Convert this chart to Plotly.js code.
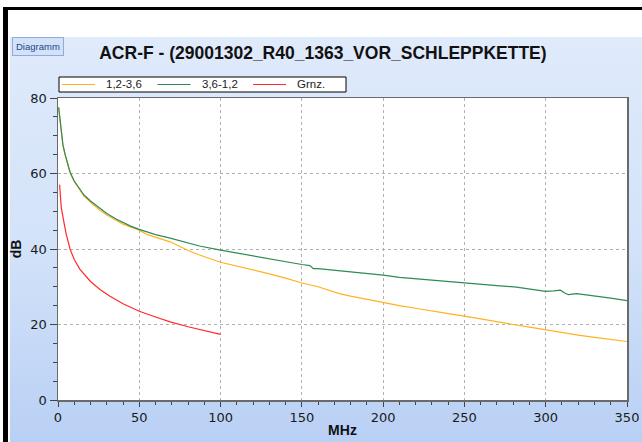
<!DOCTYPE html>
<html>
<head>
<meta charset="utf-8">
<script src="https://cdn.plot.ly/plotly-3.0.1.min.js"></script>
<style>
  body { margin: 0; }
  #frame { position: absolute; left: 0; top: 0; width: 642px; height: 442px; background: #fff; overflow: hidden; }
  #barL { position: absolute; left: 3px; top: 7px; width: 5px; height: 440px; background: #000; }
  #barT { position: absolute; left: 3px; top: 7px; width: 639px; height: 3px; background: #000; }
  #panel { position: absolute; left: 10px; top: 37px; width: 632px; height: 405px;
           background: linear-gradient(to bottom, #dfeafb 0%, #d3e3f9 50%, #b9d0f5 100%); }
  #plot { position: absolute; left: 0; top: 0; width: 642px; height: 442px; }
</style>
</head>
<body>
<div id="frame"><div id="barL"></div><div id="barT"></div><div id="panel"></div></div>
<div id="plot"></div>
<script>
// 1,2-3,6 (orange)
var freqA = [0.4, 1, 2, 3, 4.3, 5.5, 7.4, 10, 13.5, 16, 20, 26, 30, 36, 40, 45, 50, 55, 60, 69, 80, 87, 100,
             110, 120, 130, 140, 150, 160, 173, 180, 190, 200, 210, 220, 230, 240, 250, 260, 270, 280, 290,
             300, 310, 320, 330, 340, 350];
var valsA = [77.5, 75, 70.5, 67.5, 65, 63, 60.2, 57.8, 55.6, 54, 52.4, 50.2, 49, 47.5, 46.6, 45.8, 45.0, 43.8,
             43.1, 41.9, 39.6, 38.4, 36.5, 35.4, 34.4, 33.4, 32.3, 31.0, 30.0, 28.2, 27.5, 26.6, 25.7, 25.0,
             24.3, 23.5, 22.9, 22.2, 21.4, 20.8, 20.0, 19.3, 18.6, 17.8, 17.2, 16.6, 16.1, 15.5];

// 3,6-1,2 (green)
var freqB = [0.4, 1, 2, 3, 4.3, 5.5, 7.4, 10, 13.5, 16, 20, 26, 30, 36, 40, 45, 50, 55, 60, 69, 80, 87, 100,
             110, 120, 130, 140, 150, 155, 157, 160, 173, 180, 190, 200, 210, 220, 230, 240, 250, 260, 270,
             282, 290, 300, 305, 309, 312, 314, 319, 325, 333, 340, 350];
var valsB = [77.5, 75.2, 70.7, 67.7, 65.2, 63.2, 60.4, 58.0, 55.8, 54.3, 52.7, 50.6, 49.4, 47.9, 47.0, 46.0,
             45.2, 44.4, 43.8, 42.9, 41.6, 40.8, 39.7, 38.9, 38.1, 37.3, 36.6, 35.9, 35.6, 34.8, 34.8, 34.3,
             34.0, 33.5, 33.1, 32.5, 32.1, 31.7, 31.3, 31.0, 30.7, 30.3, 29.9, 29.4, 28.8, 28.9, 29.1, 28.3,
             27.9, 28.2, 27.9, 27.4, 27.0, 26.3];

// Grnz. (red limit line)
var freqL = [1, 2, 3.3, 5, 7.4, 10, 13.5, 20, 26, 32, 40, 50, 60, 69, 80, 90, 100];
var valsL = [57, 51, 47.9, 44, 40, 37.2, 34.6, 31.4, 29.2, 27.5, 25.5, 23.5, 22.0, 20.7, 19.4, 18.3, 17.4];

var names = ["1,2-3,6", "3,6-1,2", "Grnz."];
var colors = ["#ffb21f", "#2e8b57", "#ff2a2a"];

var font = "'Liberation Sans', Arial, sans-serif";
var tickFont = "'DejaVu Sans', Verdana, sans-serif";

// plot area in pixels (for the hand-built legend box above the plot)
var plotL = 58, plotW = 569, plotT = 98, plotH = 302;
function px(p) { return (p - plotL) / plotW; }
function py(p) { return 1 + (plotT - p) / plotH; }

var traces = [
  {x: freqA, y: valsA, name: names[0]},
  {x: freqB, y: valsB, name: names[1]},
  {x: freqL, y: valsL, name: names[2]}
].map(function (t, i) {
  t.type = "scatter";
  t.mode = "lines";
  t.line = {color: colors[i], width: 1.2};
  return t;
});

// legend: white box with black border, line + label per series
var shapes = [{
  type: "rect", xref: "paper", yref: "paper",
  x0: px(59), x1: px(346), y0: py(92), y1: py(77),
  fillcolor: "#ffffff", line: {color: "#000000", width: 1}
}];
var annotations = [];
names.forEach(function (n, i) {
  var off = i * 95.5;
  shapes.push({
    type: "line", xref: "paper", yref: "paper",
    x0: px(62 + off), x1: px(95 + off), y0: py(84.5), y1: py(84.5),
    line: {color: colors[i], width: 1.2}
  });
  annotations.push({
    text: n, xref: "paper", yref: "paper",
    x: px(104 + off), y: py(84.5), xanchor: "left", yanchor: "middle",
    showarrow: false, font: {family: font, size: 11.5, color: "#222"}
  });
});

annotations.push({
  text: "Diagramm",
  xref: "paper", yref: "paper",
  x: px(38), y: py(47), xanchor: "center", yanchor: "middle",
  showarrow: false,
  font: {family: font, size: 9.5, color: "#24468c"},
  bgcolor: "#d3e2f8", bordercolor: "#8fabd8", borderwidth: 1, borderpad: 3
});

var layout = {
  width: 642,
  height: 442,
  margin: {l: 58, r: 15, t: 98, b: 42},
  paper_bgcolor: "rgba(0,0,0,0)",
  plot_bgcolor: "#ffffff",
  font: {family: tickFont, size: 13, color: "#1a1a1a"},
  title: {
    text: "ACR-F - (29001302_R40_1363_VOR_SCHLEPPKETTE)",
    font: {family: font, size: 17.5, weight: "bold", color: "#111"},
    x: 0.503, xref: "container", xanchor: "center",
    y: 0.88, yref: "container", yanchor: "middle"
  },
  showlegend: false,
  xaxis: {
    range: [0, 350],
    dtick: 50,
    ticks: "outside", ticklen: 5, tickcolor: "#444",
    tickfont: {family: tickFont, size: 13, color: "#1a1a1a"},
    minor: {dtick: 10, ticks: "outside", ticklen: 3, tickcolor: "#444", showgrid: false},
    showline: true, linecolor: "#6a6a6a", linewidth: 1.5, mirror: true,
    showgrid: true, gridcolor: "#b0b0b0", griddash: "dot", gridwidth: 1,
    zeroline: false,
    title: {text: "MHz", font: {family: font, size: 14, weight: "bold", color: "#111"}, standoff: 1}
  },
  xaxis2: {
    range: [0, 350], overlaying: "x", side: "top",
    dtick: 10, ticks: "inside", ticklen: 4, tickcolor: "#444",
    showticklabels: false, showgrid: false, zeroline: false, showline: false
  },
  yaxis: {
    range: [0, 80],
    dtick: 20,
    ticks: "outside", ticklen: 7, tickcolor: "#444",
    tickfont: {family: tickFont, size: 13, color: "#1a1a1a"},
    minor: {dtick: 5, ticks: "outside", ticklen: 4, tickcolor: "#444", showgrid: false},
    showline: true, linecolor: "#6a6a6a", linewidth: 1.5, mirror: true,
    showgrid: true, gridcolor: "#b0b0b0", griddash: "dot", gridwidth: 1,
    zeroline: false,
    title: {text: "dB", font: {family: font, size: 14, weight: "bold", color: "#111"}, standoff: 5}
  },
  yaxis2: {
    range: [0, 80], overlaying: "y", side: "right",
    dtick: 20, ticks: "inside", ticklen: 7, tickcolor: "#444",
    minor: {dtick: 5, ticks: "inside", ticklen: 4, tickcolor: "#444", showgrid: false},
    showticklabels: false, showgrid: false, zeroline: false, showline: false
  },
  shapes: shapes,
  annotations: annotations
};

Plotly.newPlot("plot", traces, layout, {staticPlot: true});
</script>
</body>
</html>
